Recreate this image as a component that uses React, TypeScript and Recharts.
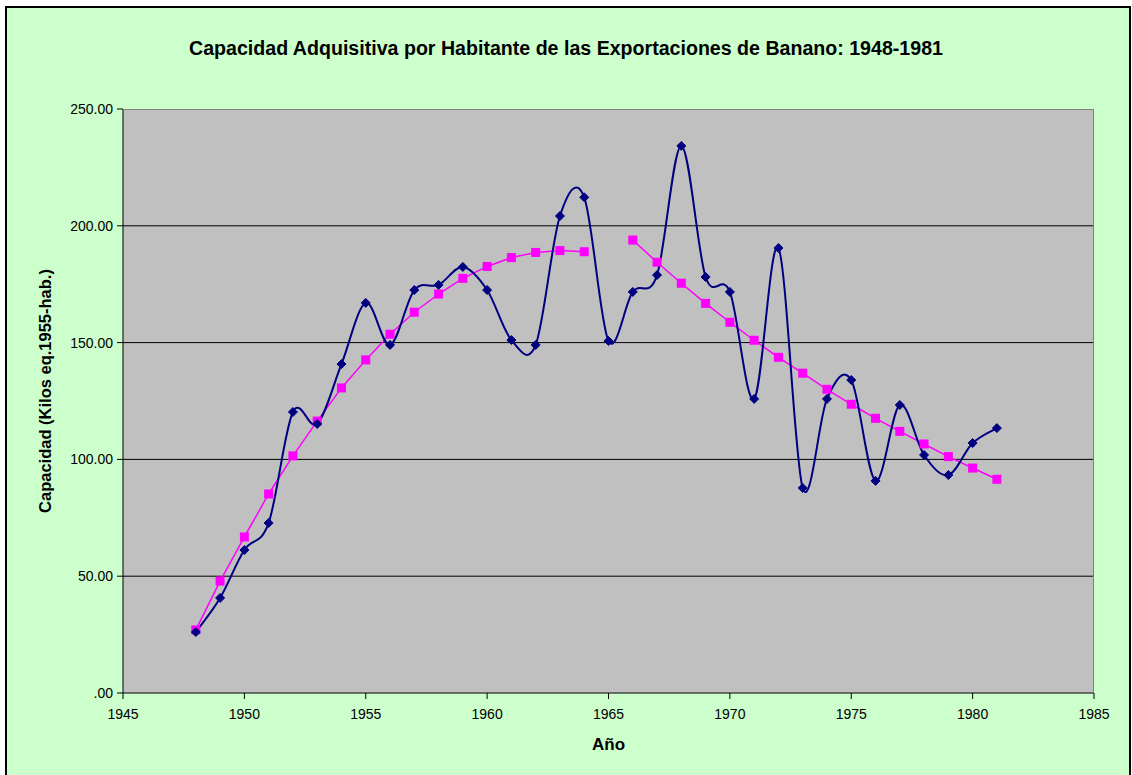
import React from "react";
import {
  LineChart,
  Line,
  XAxis,
  YAxis,
  CartesianGrid,
} from "recharts";

// años 1948-1981
const years = [
  1948, 1949, 1950, 1951, 1952, 1953, 1954, 1955, 1956, 1957, 1958, 1959,
  1960, 1961, 1962, 1963, 1964, 1965, 1966, 1967, 1968, 1969, 1970, 1971,
  1972, 1973, 1974, 1975, 1976, 1977, 1978, 1979, 1980, 1981,
];

// capacidad observada (serie azul)
const capacidad = [
  26.1, 40.7, 61.2, 72.8, 120.3, 115.2, 140.8, 167.0, 149.0, 172.5, 174.7,
  182.4, 172.5, 151.1, 149.0, 204.2, 212.2, 150.7, 171.7, 178.9, 234.2, 178.1,
  171.7, 125.9, 190.5, 87.8, 125.9, 134.0, 90.8, 123.3, 101.9, 93.3, 107.0,
  113.4,
];

// tendencia (serie magenta), sin dato en 1965
const tendencia = [
  27.0, 47.9, 66.8, 85.2, 101.5, 116.4, 130.6, 142.6, 153.6, 163.0, 170.8,
  177.5, 182.6, 186.4, 188.6, 189.4, 188.9, null, 193.9, 184.4, 175.4, 166.8,
  158.7, 151.0, 143.7, 136.9, 130.0, 123.6, 117.6, 112.0, 106.6, 101.2, 96.3,
  91.5,
];

const xTicks = [1945, 1950, 1955, 1960, 1965, 1970, 1975, 1980, 1985];
const yTicks = [0, 50, 100, 150, 200, 250];

const data = years.map((y, i) => ({
  year: y,
  capacidad: capacidad[i],
  tendencia: tendencia[i],
}));

const FONT = "'Liberation Sans', Arial, sans-serif";

// curva suavizada tipo Excel (catmull-rom)
const smoothCurve = (context: any) => {
  let pts: number[][] = [];
  return {
    areaStart() {},
    areaEnd() {},
    lineStart() {
      pts = [];
    },
    point(x: number, y: number) {
      pts.push([+x, +y]);
    },
    lineEnd() {
      if (!pts.length) return;
      context.moveTo(pts[0][0], pts[0][1]);
      for (let i = 0; i < pts.length - 1; i++) {
        const p0 = pts[i - 1] || pts[i];
        const p1 = pts[i];
        const p2 = pts[i + 1];
        const p3 = pts[i + 2] || p2;
        context.bezierCurveTo(
          p1[0] + (p2[0] - p0[0]) / 6,
          p1[1] + (p2[1] - p0[1]) / 6,
          p2[0] - (p3[0] - p1[0]) / 6,
          p2[1] - (p3[1] - p1[1]) / 6,
          p2[0],
          p2[1]
        );
      }
    },
  };
};

const Diamond = (props: any) => {
  const { cx, cy, index } = props;
  if (cx == null || cy == null) return <g key={`dm-${index}`} />;
  const r = 4.5;
  return (
    <path
      key={`dm-${index}`}
      d={`M${cx},${cy - r}L${cx + r},${cy}L${cx},${cy + r}L${cx - r},${cy}Z`}
      fill="#000080"
      stroke="#000080"
      strokeWidth={1}
    />
  );
};

const Square = (props: any) => {
  const { cx, cy, index } = props;
  if (cx == null || cy == null) return <g key={`sq-${index}`} />;
  const s = 4.5;
  return (
    <rect
      key={`sq-${index}`}
      x={cx - s}
      y={cy - s}
      width={s * 2}
      height={s * 2}
      fill="#FF00FF"
    />
  );
};

const App: React.FC = () => {
  return (
    <div
      style={{
        position: "absolute",
        left: 0,
        top: 0,
        width: 1132,
        height: 775,
        overflow: "hidden",
        background: "#ffffff",
        fontFamily: FONT,
      }}
    >
      <div
        style={{
          position: "absolute",
          left: 5,
          top: 6,
          width: 1122,
          height: 800,
          background: "#CCFFCC",
          border: "2px solid #000",
        }}
      />

      <div
        style={{
          position: "absolute",
          left: 0,
          top: 37,
          width: 1132,
          textAlign: "center",
          fontWeight: "bold",
          fontSize: 19.6,
          color: "#000",
        }}
      >
        Capacidad Adquisitiva por Habitante de las Exportaciones de Banano: 1948-1981
      </div>

      <div style={{ position: "absolute", left: 0, top: 0 }}>
        <LineChart
          width={1132}
          height={775}
          data={data}
          margin={{ top: 109, right: 38, left: 63, bottom: 32 }}
        >
          <CartesianGrid
            vertical={false}
            horizontalValues={[50, 100, 150, 200]}
            stroke="#000"
            strokeWidth={1}
            fill="#C0C0C0"
            fillOpacity={1}
          />
          <XAxis
            dataKey="year"
            type="number"
            domain={[1945, 1985]}
            ticks={xTicks}
            interval={0}
            height={50}
            tick={{ fontSize: 14, fill: "#000", fontFamily: FONT }}
            tickSize={6}
            tickMargin={10}
            axisLine={{ stroke: "#000" }}
            tickLine={{ stroke: "#000" }}
          />
          <YAxis
            type="number"
            domain={[0, 250]}
            ticks={yTicks}
            interval={0}
            width={60}
            tick={{ fontSize: 14, fill: "#000", fontFamily: FONT }}
            tickFormatter={(v: number) => (v === 0 ? ".00" : v.toFixed(2))}
            tickSize={6}
            tickMargin={4}
            axisLine={{ stroke: "#000" }}
            tickLine={{ stroke: "#000" }}
          />
          <Line
            dataKey="tendencia"
            type="linear"
            stroke="#FF00FF"
            strokeWidth={1.5}
            dot={Square}
            activeDot={false}
            connectNulls={false}
            isAnimationActive={false}
          />
          <Line
            dataKey="capacidad"
            type={smoothCurve as any}
            stroke="#000080"
            strokeWidth={2}
            dot={Diamond}
            activeDot={false}
            isAnimationActive={false}
          />
        </LineChart>
      </div>

      {/* borde del área de trazado */}
      <div
        style={{
          position: "absolute",
          left: 123,
          top: 109,
          width: 971,
          height: 584,
          boxSizing: "border-box",
          borderTop: "1.5px solid #808080",
          borderRight: "1.5px solid #808080",
          pointerEvents: "none",
        }}
      />

      <div
        style={{
          position: "absolute",
          left: 123,
          top: 735,
          width: 971,
          textAlign: "center",
          fontWeight: "bold",
          fontSize: 17,
          color: "#000",
        }}
      >
        Año
      </div>

      <div
        style={{
          position: "absolute",
          left: 45,
          top: 391,
          transform: "translate(-50%, -50%) rotate(-90deg)",
          whiteSpace: "nowrap",
          fontWeight: "bold",
          fontSize: 16.5,
          color: "#000",
        }}
      >
        Capacidad (Kilos eq.1955-hab.)
      </div>
    </div>
  );
};

export default App;
